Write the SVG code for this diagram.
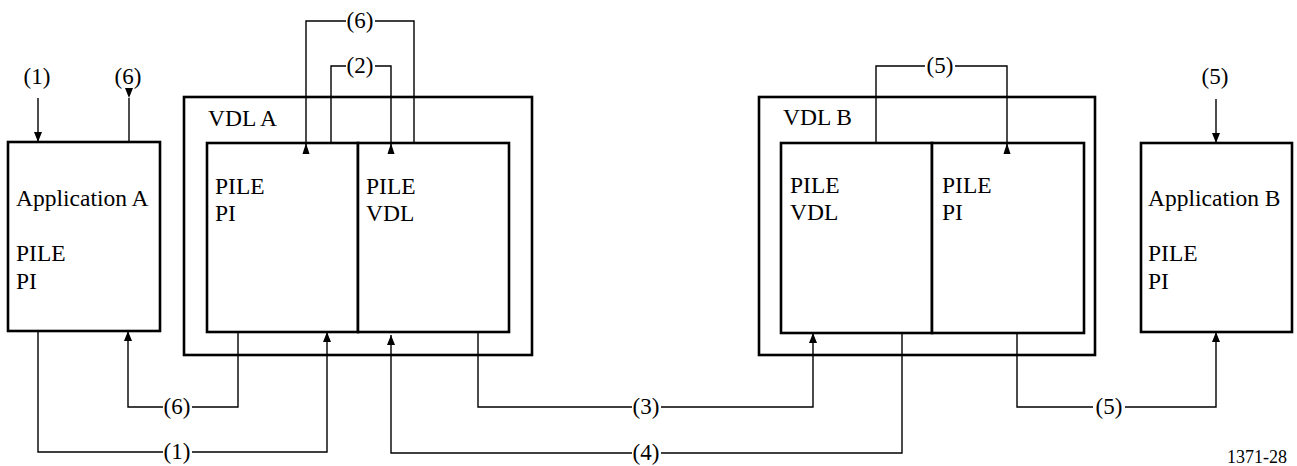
<svg xmlns="http://www.w3.org/2000/svg" width="1297" height="466" viewBox="0 0 1297 466">
<defs>
<marker id="ah" viewBox="0 0 10 8" refX="10" refY="4" markerWidth="10" markerHeight="8" markerUnits="userSpaceOnUse" orient="auto">
<path d="M0,0 L10,4 L0,8 z" fill="#000"/>
</marker>
</defs>
<style>
.box{fill:#fff;stroke:#000;stroke-width:2.6}
.ln{fill:none;stroke:#000;stroke-width:1.4}
text{font-family:'Liberation Serif','Times New Roman',Times,serif;fill:#000}
.t{font-size:23.5px}
.l{font-size:23px;text-anchor:middle}
.tri{fill:#000}
</style>
<rect width="1297" height="466" fill="#fff"/>
<g id="appA">
<rect class="box" x="8" y="142" width="152" height="189"/>
<text class="t" x="16" y="206">Application A</text>
<text class="t" x="16" y="261">PILE</text>
<text class="t" x="16" y="289">PI</text>
</g>
<g id="vdlA">
<rect class="box" x="184" y="97" width="348" height="258"/>
<text class="t" x="208" y="126">VDL A</text>
<rect class="box" x="207" y="143" width="151" height="189"/>
<rect class="box" x="358" y="143" width="151" height="189"/>
<text class="t" x="215" y="194">PILE</text>
<text class="t" x="215" y="221">PI</text>
<text class="t" x="366" y="194">PILE</text>
<text class="t" x="366" y="221">VDL</text>
</g>
<g id="vdlB">
<rect class="box" x="759" y="97" width="336" height="258"/>
<text class="t" x="783" y="125">VDL B</text>
<rect class="box" x="781" y="143" width="151" height="190"/>
<rect class="box" x="932" y="143" width="152" height="190"/>
<text class="t" x="790" y="193">PILE</text>
<text class="t" x="790" y="220">VDL</text>
<text class="t" x="942" y="193">PILE</text>
<text class="t" x="942" y="220">PI</text>
</g>
<g id="appB">
<rect class="box" x="1141" y="143" width="151" height="189"/>
<text class="t" x="1148" y="206">Application B</text>
<text class="t" x="1148" y="261">PILE</text>
<text class="t" x="1148" y="289">PI</text>
</g>
<g id="connectors">
<line class="ln" x1="38" y1="98" x2="38" y2="142" marker-end="url(#ah)"/>
<line class="ln" x1="129" y1="98" x2="129" y2="142"/>
<polygon class="tri" points="125,88 133,88 129,98"/>
<path class="ln" d="M414,143 V21 H375 M346,21 H306 V150"/>
<polygon class="tri" points="306,143 302.5,154 309.5,154"/>
<path class="ln" d="M331,143 V66 H346 M375,66 H391 V150"/>
<polygon class="tri" points="391,143 387.5,154 394.5,154"/>
<path class="ln" d="M876,143 V66 H925 M955,66 H1007 V150"/>
<polygon class="tri" points="1007,143 1003.5,154 1010.5,154"/>
<line class="ln" x1="1216" y1="99" x2="1216" y2="143" marker-end="url(#ah)"/>
<path class="ln" d="M238,332 V407 H192 M163,407 H128 V331" marker-end="url(#ah)"/>
<path class="ln" d="M38,331 V452 H163 M192,452 H327 V332" marker-end="url(#ah)"/>
<path class="ln" d="M478,332 V407 H632 M661,407 H813 V333" marker-end="url(#ah)"/>
<path class="ln" d="M902,333 V453 H661 M632,453 H391 V335" marker-end="url(#ah)"/>
<path class="ln" d="M1017,333 V407 H1093 M1125,407 H1216 V332" marker-end="url(#ah)"/>
</g>
<g id="labels">
<text class="l" x="37" y="84">(1)</text>
<text class="l" x="128" y="84">(6)</text>
<text class="l" x="360" y="28">(6)</text>
<text class="l" x="360" y="73">(2)</text>
<text class="l" x="940" y="73">(5)</text>
<text class="l" x="1215" y="84">(5)</text>
<text class="l" x="177" y="414">(6)</text>
<text class="l" x="177" y="459">(1)</text>
<text class="l" x="646" y="414">(3)</text>
<text class="l" x="646" y="460">(4)</text>
<text class="l" x="1109" y="414">(5)</text>
<text x="1287" y="463" font-size="18" text-anchor="end">1371-28</text>
</g>
</svg>
